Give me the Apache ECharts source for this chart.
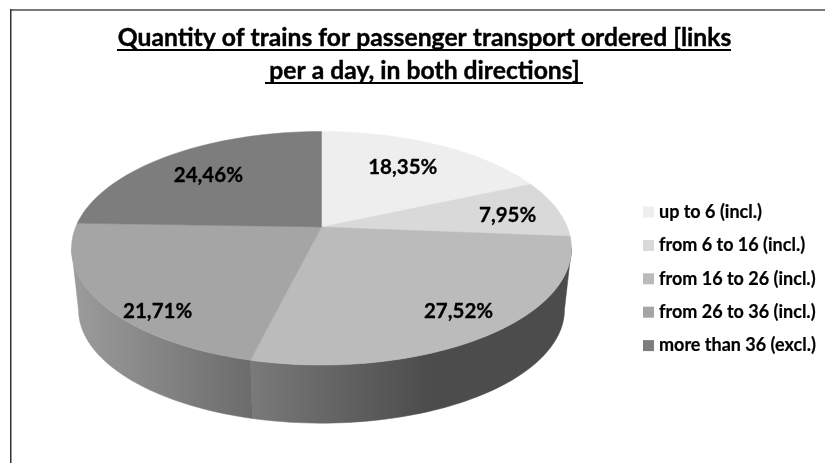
<!DOCTYPE html>
<html><head><meta charset="utf-8">
<style>html,body{margin:0;padding:0;background:#fff}#c{width:825px;height:463px}</style>
<script src="https://cdn.jsdelivr.net/npm/echarts@6/dist/echarts.min.js"></script>
</head><body><div id="c"></div>
<script>
const categories = ['up to 6 (incl.)','from 6 to 16 (incl.)','from 16 to 26 (incl.)','from 26 to 36 (incl.)','more than 36 (excl.)'];
const shares = [18.35, 7.95, 27.52, 21.71, 24.46];
const colors = ['#eeeeee','#d9d9d9','#bbbbbb','#a5a5a5','#7d7d7d'];
const titleLines = ['Quantity of trains for passenger transport ordered [links','per a day, in both directions]'];
const FONT = 'Lato, "Open Sans", sans-serif';

// Projection of the disc: perspective ellipse
const CX = 321.5, CY = 227, A = 245.8, B = 112.9, K = 0.182, DEPTH = 62, SHRINK = 0.972;
function project(deg, r, low) {
  const t = deg * Math.PI / 180, u = r * Math.sin(t), v = -r * Math.cos(t), w = 1 - K * v;
  const s = low ? SHRINK : 1;
  return [CX + s * A * u / w, CY + (low ? DEPTH : 0) + s * B * v / w];
}
const SIDE_FROM = 100.5, SIDE_TO = 259.5;
const sideFills = {
  2: [[250, '#7a7a7a'], [430, '#4c4c4c'], [570, '#4c4c4c']],
  3: [[72, '#9c9c9c'], [250, '#6c6c6c']]
};
const labelRadius = [0.69, 0.78, 0.82, 0.88, 0.71];
const labelTurn = [-1, 1.6, -1, -11, -1];

function sweep(a, b, low) {
  const n = Math.max(2, Math.ceil((b - a) / 1.5)), pts = [];
  for (let i = 0; i <= n; i++) pts.push(project(a + (b - a) * i / n, 1, low));
  return pts;
}
function gradient(stops) {
  const x0 = stops[0][0], x1 = stops[stops.length - 1][0];
  return { type: 'linear', global: true, x: x0, y: 0, x2: x1, y2: 0,
    colorStops: stops.map(s => ({ offset: (s[0] - x0) / (x1 - x0), color: s[1] })) };
}
let running = 0;
const series = categories.map((name, i) => {
  const start = running; running += shares[i];
  return {
    name, type: 'custom', coordinateSystem: 'none',
    itemStyle: { color: colors[i] },
    data: [[shares[i], start]],
    renderItem(params, api) {
      const total = shares.reduce((a, b) => a + b, 0);
      const a0 = api.value(1) / total * 360, a1 = (api.value(1) + api.value(0)) / total * 360;
      const children = [];
      const f = Math.max(a0, SIDE_FROM), g = Math.min(a1, SIDE_TO);
      if (g > f && sideFills[i]) {
        const fill = gradient(sideFills[i]);
        children.push({ type: 'polygon', shape: { points: sweep(f, g, false).concat(sweep(f, g, true).reverse()) },
          style: { fill, stroke: fill, lineWidth: 0.5 } });
      }
      children.push({ type: 'polygon',
        shape: { points: [project(0, 0, false)].concat(sweep(a0, a1, false)) },
        style: { fill: colors[i], stroke: colors[i], lineWidth: 0.5 } });
      const mid = (a0 + a1) / 2 + labelTurn[i], p = project(mid, labelRadius[i], false);
      children.push({ type: 'text', x: p[0], y: p[1], z2: 10,
        style: { text: api.value(0).toFixed(2).replace('.', ',') + '%', fill: '#000',
          font: 'bold 20.5px ' + FONT, align: 'center', verticalAlign: 'middle',
          stroke: '#000', lineWidth: 0.3 } });
      return { type: 'group', children };
    }
  };
});

const chart = echarts.init(document.getElementById('c'), null, { renderer: 'canvas' });
chart.setOption({
  animation: false,
  backgroundColor: '#fff',
  title: { text: titleLines.join('\n'), left: 419.5, top: 17, textAlign: 'center',
    textStyle: { fontFamily: FONT, fontWeight: 'bold', fontSize: 24.7, lineHeight: 33, color: '#000',
      textBorderColor: '#000', textBorderWidth: 0.4 } },
  legend: { data: categories, orient: 'vertical', left: 643, top: 202, padding: 0, icon: 'rect',
    itemWidth: 11, itemHeight: 11, itemGap: 13.4, selectedMode: false,
    textStyle: { fontFamily: FONT, fontWeight: 'bold', fontSize: 18, lineHeight: 20, color: '#000',
      textBorderColor: '#000', textBorderWidth: 0.2 } },
  graphic: [
    { type: 'rect', shape: { x: 10, y: 9, width: 815, height: 2 }, style: { fill: '#7a7a7a' }, silent: true },
    { type: 'rect', shape: { x: 10, y: 9, width: 1.5, height: 454 }, style: { fill: '#333' }, silent: true },
    { type: 'rect', shape: { x: 117, y: 49, width: 614, height: 2 }, style: { fill: '#000' }, silent: true },
    { type: 'rect', shape: { x: 265, y: 82, width: 318, height: 2 }, style: { fill: '#000' }, silent: true }
  ],
  series
});
</script></body></html>
